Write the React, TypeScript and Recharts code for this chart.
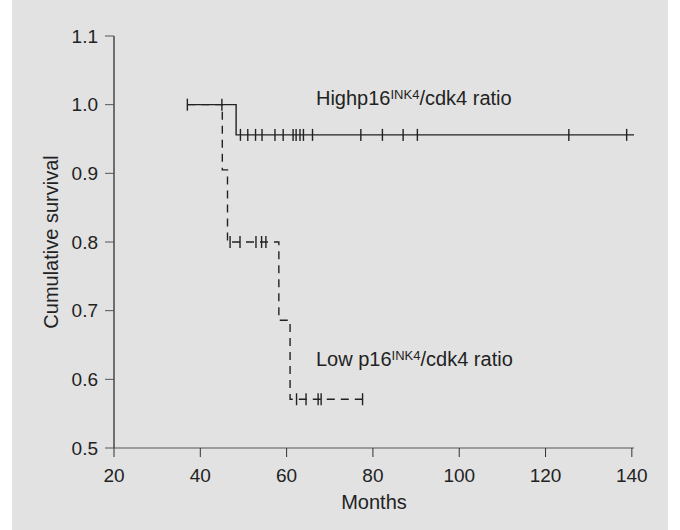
import { ComposedChart, Line, Scatter, XAxis, YAxis, ReferenceDot } from "recharts";

// Kaplan-Meier steps: event month, survival after the event
const HIGH_TIMES = [37, 48.3, 140.5];
const HIGH_SURV = [1.0, 0.956, 0.956];
const LOW_TIMES = [37, 45.1, 46.3, 58.2, 60.8, 77.6];
const LOW_SURV = [1.0, 0.905, 0.8, 0.686, 0.571, 0.571];

// censored observations (tick marks)
const HIGH_CENSOR_T = [37, 45, 49.3, 51, 52.8, 54.3, 57.3, 59.2, 61.5, 62.2, 63.1, 63.9, 66, 77.2, 82.2, 87, 90.3, 125.4, 138.8];
const HIGH_CENSOR_S = [1, 1, 0.956, 0.956, 0.956, 0.956, 0.956, 0.956, 0.956, 0.956, 0.956, 0.956, 0.956, 0.956, 0.956, 0.956, 0.956, 0.956, 0.956];
const LOW_CENSOR_T = [46.9, 49.2, 52.9, 54.2, 55.2, 62.3, 64.5, 67.3, 68.0, 77.6];
const LOW_CENSOR_S = [0.8, 0.8, 0.8, 0.8, 0.8, 0.571, 0.571, 0.571, 0.571, 0.571];

const X_TICKS = [20, 40, 60, 80, 100, 120, 140];
const Y_TICKS = [0.5, 0.6, 0.7, 0.8, 0.9, 1.0, 1.1];

const HIGH_LABEL = { x: 66.8, y: 1.0 };
const LOW_LABEL = { x: 66.8, y: 0.6195 };

const FONT = "'Liberation Sans', Arial, Helvetica, sans-serif";
const INK = "#222";

const zip = (t: number[], s: number[]) => t.map((x, i) => ({ x, y: s[i] }));

const censorTick = (p: any) => (
  <line x1={p.cx} x2={p.cx} y1={p.cy - 6} y2={p.cy + 6} stroke={INK} strokeWidth={1.4} />
);

const groupLabel = (prefix: string) => (p: any) => (
  <text x={p.cx} y={p.cy} fill={INK} fontSize={20} fontFamily={FONT}>
    {prefix}
    <tspan dy={-6} fontSize={13}>INK4</tspan>
    <tspan dy={6}>/cdk4 ratio</tspan>
  </text>
);

function YTitle(props: any) {
  const vb = props.viewBox || { x: 0, y: 36, width: 102, height: 412 };
  const cx = vb.x + 46;
  const cy = vb.y + vb.height / 2;
  return (
    <text x={cx} y={cy} transform={`rotate(-90, ${cx}, ${cy})`} textAnchor="middle" fill={INK} fontSize={20} fontFamily={FONT}>
      Cumulative survival
    </text>
  );
}

function XTitle(props: any) {
  const vb = props.viewBox || { x: 102, y: 448, width: 520, height: 82 };
  return (
    <text x={vb.x + vb.width / 2} y={vb.y + 61} textAnchor="middle" fill={INK} fontSize={20} fontFamily={FONT}>
      Months
    </text>
  );
}

export default function App() {
  const high = zip(HIGH_TIMES, HIGH_SURV);
  const low = zip(LOW_TIMES, LOW_SURV);
  const highCens = zip(HIGH_CENSOR_T, HIGH_CENSOR_S);
  const lowCens = zip(LOW_CENSOR_T, LOW_CENSOR_S);

  return (
    <div style={{ position: "absolute", left: 0, top: 0, width: 680, height: 530, background: "#fff" }}>
      <div style={{ position: "absolute", left: 12, top: 0, width: 656, height: 530, background: "#e2e2e2" }}>
        <ComposedChart width={656} height={530} margin={{ top: 36, right: 34, left: 0, bottom: 0 }}>
          <XAxis
            dataKey="x"
            type="number"
            domain={[20, 140]}
            ticks={X_TICKS}
            height={82}
            tickSize={9}
            tickMargin={12}
            axisLine={{ stroke: "#555", strokeWidth: 1.2 }}
            tickLine={{ stroke: "#333" }}
            tick={{ fill: INK, fontSize: 19, fontFamily: FONT }}
            label={<XTitle />}
          />
          <YAxis
            dataKey="y"
            type="number"
            domain={[0.5, 1.1]}
            ticks={Y_TICKS}
            width={102}
            tickSize={9}
            tickMargin={7}
            tickFormatter={(v: number) => v.toFixed(1)}
            axisLine={{ stroke: INK, strokeWidth: 1.2 }}
            tickLine={{ stroke: "#555" }}
            tick={{ fill: INK, fontSize: 19, fontFamily: FONT }}
            label={<YTitle />}
          />
          <Line data={low} dataKey="y" type="stepAfter" stroke={INK} strokeWidth={1.4} strokeDasharray="8 6" dot={false} isAnimationActive={false} />
          <Line data={high} dataKey="y" type="stepAfter" stroke={INK} strokeWidth={1.4} dot={false} isAnimationActive={false} />
          <Scatter data={highCens} dataKey="y" shape={censorTick} isAnimationActive={false} />
          <Scatter data={lowCens} dataKey="y" shape={censorTick} isAnimationActive={false} />
          <ReferenceDot x={HIGH_LABEL.x} y={HIGH_LABEL.y} r={0} shape={groupLabel("Highp16")} />
          <ReferenceDot x={LOW_LABEL.x} y={LOW_LABEL.y} r={0} shape={groupLabel("Low p16")} />
        </ComposedChart>
      </div>
    </div>
  );
}
